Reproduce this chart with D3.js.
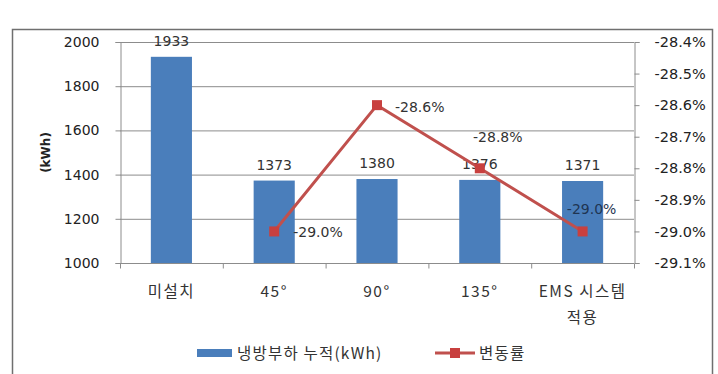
<!DOCTYPE html>
<html><head><meta charset="utf-8">
<script src="https://cdn.jsdelivr.net/npm/d3@7"></script>
<style>
html,body{margin:0;padding:0;background:#fff;}
svg{display:block;}
</style></head>
<body>
<svg id="c" width="718" height="374"></svg>
<script>
const categories = ["미설치", "45°", "90°", "135°", "EMS 시스템\n적용"];
const loadValues = [1933, 1373, 1380, 1376, 1371];
const rateCategories = ["45°", "90°", "135°", "EMS 시스템\n적용"];
const rateValues = [-29.0, -28.6, -28.8, -29.0];
const leftTicks = [1000, 1200, 1400, 1600, 1800, 2000];
const rightTicks = [-29.1, -29.0, -28.9, -28.8, -28.7, -28.6, -28.5, -28.4];
const seriesNames = ["냉방부하 누적(kWh)", "변동률"];
const yAxisTitle = "(kWh)";

const svg = d3.select("#c");
const M = {l:120, r:634, t:42, b:263};
const blue = "#4A7EBB", red = "#C8403F", lineRed = "#C0504D";
const numFont = "DejaVu Sans, Verdana, sans-serif";
const korFont = "Noto Sans CJK KR, sans-serif";
const pct = d => d.toFixed(1) + "%";

// frame
svg.append("rect").attr("x",12.5).attr("y",29.5).attr("width",700).attr("height",360)
  .attr("fill","#fff").attr("stroke","#6f6f6f").attr("stroke-width",1.5);

const x = d3.scaleBand().domain(categories).range([M.l, M.r]).paddingInner(0.6).paddingOuter(0.3);
const xb = d3.scaleBand().domain(categories).range([M.l, M.r]);
const y = d3.scaleLinear().domain([1000, 2000]).range([M.b, M.t]);
const y2 = d3.scaleLinear().domain([-29.1, -28.4]).range([M.b, M.t]);

// gridlines
svg.append("g").selectAll("line").data(leftTicks.filter(d=>d>1000)).join("line")
  .attr("x1",M.l).attr("x2",M.r).attr("y1",d=>y(d)+0.5).attr("y2",d=>y(d)+0.5)
  .attr("stroke","#8c8c8c").attr("stroke-width",1);

// bars
svg.append("g").selectAll("rect").data(loadValues).join("rect")
  .attr("x",(d,i)=>x(categories[i])).attr("width",x.bandwidth())
  .attr("y",d=>y(d)).attr("height",d=>y(1000)-y(d)).attr("fill",blue);

// left axis
const gl = svg.append("g").attr("transform",`translate(${M.l+0.5},0)`)
  .call(d3.axisLeft(y).tickValues(leftTicks).tickSize(5).tickPadding(16).tickFormat(d3.format("d")));
gl.select(".domain").attr("stroke","#8c8c8c");
gl.selectAll(".tick line").attr("stroke","#8c8c8c");
gl.selectAll("text").attr("font-family",numFont).attr("font-size",14).attr("fill","#222");

// right axis
const gr = svg.append("g").attr("transform",`translate(${M.r+0.5},0)`)
  .call(d3.axisRight(y2).tickValues(rightTicks).tickSize(5).tickPadding(15).tickFormat(pct));
gr.select(".domain").attr("stroke","#8c8c8c");
gr.selectAll(".tick line").attr("stroke","#8c8c8c");
gr.selectAll("text").attr("font-family",numFont).attr("font-size",14.5).attr("fill","#222");

// bottom axis
const gb = svg.append("g").attr("transform",`translate(0,${M.b+0.5})`);
gb.append("line").attr("x1",M.l).attr("x2",M.r).attr("stroke","#8c8c8c");
const bTicks = categories.map(c=>xb(c)).concat([M.r]);
gb.selectAll(".bt").data(bTicks).join("line").attr("class","bt")
  .attr("x1",d=>d+0.5).attr("x2",d=>d+0.5).attr("y1",0).attr("y2",5).attr("stroke","#8c8c8c");
categories.forEach((c,i)=>{
  const lines = c.split("\n");
  const t = gb.append("text").attr("x",xb(c)+xb.bandwidth()/2).attr("y",33)
    .attr("text-anchor","middle").attr("font-family",korFont).attr("font-size",15.5)
    .attr("letter-spacing",1.5).attr("fill","#333");
  lines.forEach((l,j)=>t.append("tspan").attr("x",xb(c)+xb.bandwidth()/2).attr("dy",j?26:0).text(l));
});

// y title
svg.append("text").attr("transform",`translate(50,${(M.t+M.b)/2}) rotate(-90)`)
  .attr("text-anchor","middle").attr("font-family",numFont).attr("font-weight","bold")
  .attr("font-size",12).attr("fill","#222").text(yAxisTitle);

// bar labels
svg.append("g").selectAll("text").data(loadValues).join("text")
  .attr("x",(d,i)=>x(categories[i])+x.bandwidth()/2).attr("y",d=>y(d)-11)
  .attr("text-anchor","middle").attr("font-family",numFont).attr("font-size",14).attr("fill","#333")
  .text(d=>d);

// line
const cx = c => xb(c)+xb.bandwidth()/2;
const line = d3.line().x((d,i)=>cx(rateCategories[i])).y(d=>y2(d));
svg.append("path").datum(rateValues).attr("d",line).attr("fill","none")
  .attr("stroke",lineRed).attr("stroke-width",3);
svg.append("g").selectAll("rect").data(rateValues).join("rect")
  .attr("x",(d,i)=>cx(rateCategories[i])-5).attr("y",d=>y2(d)-5)
  .attr("width",10).attr("height",10).attr("fill",red);

// line labels
const lblPos = [{dx:19,dy:6,a:"start"},{dx:18,dy:7,a:"start"},{dx:18,dy:-26,a:"middle"},{dx:9,dy:-17,a:"middle"}];
svg.append("g").selectAll("text").data(rateValues).join("text")
  .attr("x",(d,i)=>cx(rateCategories[i])+lblPos[i].dx).attr("y",(d,i)=>y2(d)+lblPos[i].dy)
  .attr("text-anchor",(d,i)=>lblPos[i].a).attr("font-family",numFont).attr("font-size",14)
  .attr("fill",(d,i)=>i===3?"#1f3552":"#333").text(pct);

// legend
const lg = svg.append("g");
lg.append("rect").attr("x",197).attr("y",349).attr("width",35).attr("height",8).attr("fill",blue);
lg.append("text").attr("x",237).attr("y",359).attr("font-family",korFont).attr("font-size",15.5)
  .attr("letter-spacing",1.2).attr("fill","#333").text(seriesNames[0]);
lg.append("line").attr("x1",435).attr("x2",475).attr("y1",353).attr("y2",353)
  .attr("stroke",lineRed).attr("stroke-width",3);
lg.append("rect").attr("x",450).attr("y",348).attr("width",10).attr("height",10).attr("fill",red);
lg.append("text").attr("x",479).attr("y",359).attr("font-family",korFont).attr("font-size",15.5)
  .attr("letter-spacing",1.2).attr("fill","#333").text(seriesNames[1]);
</script>
</body></html>
